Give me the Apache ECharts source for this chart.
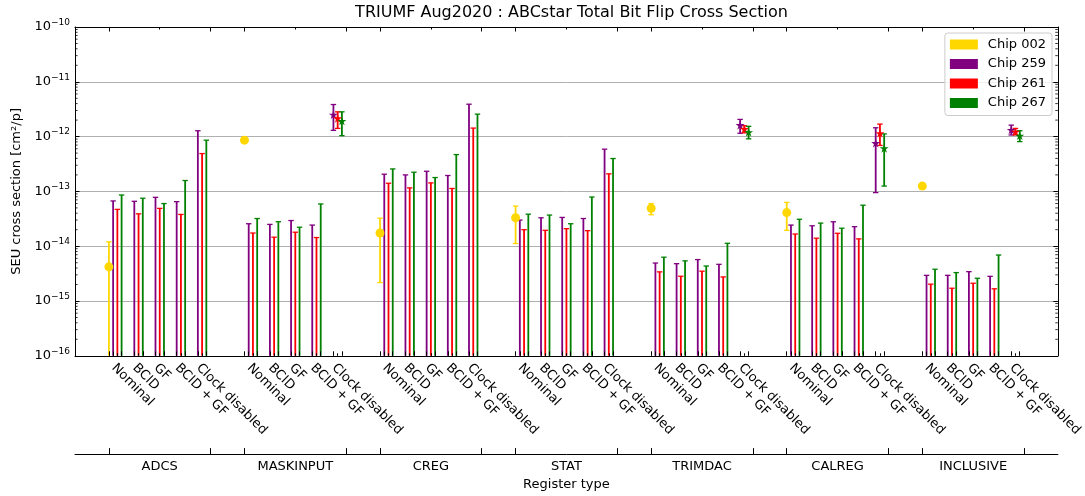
<!DOCTYPE html>
<html><head><meta charset="utf-8">
<script src="https://cdn.jsdelivr.net/npm/echarts@6/dist/echarts.min.js"></script>
<style>html,body{margin:0;padding:0;background:#fff}#c{width:1085px;height:496px}</style>
</head><body><div id="c"></div>
<script>
// ---------------- data ----------------
const groups = ['ADCS', 'MASKINPUT', 'CREG', 'STAT', 'TRIMDAC', 'CALREG', 'INCLUSIVE'];
const modes = ['Nominal', 'BCID', 'GF', 'BCID + GF', 'Clock disabled'];
const chips = ['Chip 002', 'Chip 259', 'Chip 261', 'Chip 267'];
const chipColors = ['#FFD700', '#800080', '#FF0000', '#008000'];
const yTickValues = [1e-16, 1e-15, 1e-14, 1e-13, 1e-12, 1e-11, 1e-10];
const minorMultipliers = [2, 3, 4, 5, 6, 7, 8, 9];

// Chip 002: measured, Nominal only (value, lower, upper); lower 0 = down to axis
const chip002Value = [4.2e-15, 8.6e-13, 1.74e-14, 3.3e-14, 4.93e-14, 4.1e-14, 1.25e-13];
const chip002Low   = [0,       8.3e-13, 2.17e-15, 1.12e-14, 3.75e-14, 1.95e-14, 1.21e-13];
const chip002High  = [1.2e-14, 8.9e-13, 3.25e-14, 5.4e-14, 6.0e-14, 6.3e-14, 1.29e-13];

// Upper limits per group (rows) and mode (columns); null = measured point instead
const chip259Limit = [
  [6.7e-14, 6.6e-14, 7.8e-14, 6.5e-14, 1.28e-12],
  [2.57e-14, 2.5e-14, 2.94e-14, 2.43e-14, null],
  [2.06e-13, 2.0e-13, 2.33e-13, 1.95e-13, 3.9e-12],
  [3.0e-14, 3.3e-14, 3.35e-14, 3.2e-14, 5.9e-13],
  [4.93e-15, 4.8e-15, 5.7e-15, 4.67e-15, null],
  [2.43e-14, 2.36e-14, 2.79e-14, 2.27e-14, null],
  [2.94e-15, 2.94e-15, 3.43e-15, 2.82e-15, null]
];
const chip261Limit = [
  [4.7e-14, 3.9e-14, 4.9e-14, 3.8e-14, 4.9e-13],
  [1.74e-14, 1.46e-14, 1.8e-14, 1.44e-14, null],
  [1.41e-13, 1.16e-13, 1.43e-13, 1.13e-13, 1.43e-12],
  [2.0e-14, 1.95e-14, 2.09e-14, 1.92e-14, 2.09e-13],
  [3.4e-15, 2.83e-15, 3.5e-15, 2.75e-15, null],
  [1.67e-14, 1.4e-14, 1.72e-14, 1.36e-14, null],
  [2.03e-15, 1.71e-15, 2.11e-15, 1.67e-15, null]
];
const chip267Limit = [
  [8.6e-14, 7.5e-14, 6.0e-14, 1.58e-13, 8.6e-13],
  [3.2e-14, 2.8e-14, 2.22e-14, 5.9e-14, null],
  [2.57e-13, 2.24e-13, 1.79e-13, 4.7e-13, 2.57e-12],
  [3.84e-14, 3.7e-14, 2.57e-14, 7.9e-14, 3.98e-13],
  [6.3e-15, 5.4e-15, 4.35e-15, 1.13e-14, null],
  [3.1e-14, 2.64e-14, 2.13e-14, 5.6e-14, null],
  [3.8e-15, 3.3e-15, 2.6e-15, 6.9e-15, null]
];
// Clock disabled measured points per group: [value, lower, upper]
const chip259Clock = [null, [2.5e-12, 1.30e-12, 3.85e-12], null, null, [1.62e-12, 1.15e-12, 2.06e-12], [7.6e-13, 9.5e-14, 1.45e-12], [1.32e-12, 1.07e-12, 1.62e-12]];
const chip261Clock = [null, [2.15e-12, 1.41e-12, 2.83e-12], null, null, [1.38e-12, 1.17e-12, 1.58e-12], [1.15e-12, 6.9e-13, 1.69e-12], [1.23e-12, 1.07e-12, 1.41e-12]];
const chip267Clock = [null, [1.92e-12, 1.04e-12, 2.83e-12], null, null, [1.2e-12, 9.1e-13, 1.54e-12], [6.1e-13, 1.25e-13, 1.12e-12], [1.04e-12, 8.1e-13, 1.28e-12]];

// ---------------- layout helpers ----------------
const FONT = 'DejaVu Sans';
const groupStep = 6.4, groupSpan = 4.8;
const chipOffsets = [0, 0.2, 0.4, 0.6];
const xMin = -1.6, xMax = 44.8;
const pos = (g, m, c) => g * groupStep + m + chipOffsets[c];

const limits = [null, chip259Limit, chip261Limit, chip267Limit];
const clocks = [null, chip259Clock, chip261Clock, chip267Clock];

const errData = [[], [], [], []];
const markData = [[], [], [], []];
groups.forEach((gName, g) => {
  errData[0].push([pos(g, 0, 0), chip002Low[g], chip002High[g]]);
  markData[0].push([pos(g, 0, 0), chip002Value[g]]);
  for (let c = 1; c < 4; c++) {
    modes.forEach((mName, m) => {
      const lim = limits[c][g][m];
      if (lim != null) errData[c].push([pos(g, m, c), 0, lim]);
    });
    const ck = clocks[c][g];
    if (ck) {
      errData[c].push([pos(g, 4, c), ck[1], ck[2]]);
      markData[c].push([pos(g, 4, c), ck[0]]);
    }
  }
});

const tallTicks = [], shortTicks = [], subLabelPos = [], groupEdges = [], groupCenters = [];
groups.forEach((gName, g) => {
  tallTicks.push(pos(g, 0, 0));
  groupEdges.push(g * groupStep, g * groupStep + groupSpan);
  groupCenters.push(g * groupStep + groupSpan / 2);
  modes.forEach((mName, m) => {
    tallTicks.push(pos(g, m, 1), pos(g, m, 3));
    shortTicks.push(pos(g, m, 2));
    subLabelPos.push(g * groupStep + m + 0.22);
  });
});

const minorValues = [];
yTickValues.slice(0, -1).forEach(d => minorMultipliers.forEach(k => minorValues.push([xMin, d * k])));

const starPath = 'path://M0,-1L0.2245,-0.309L0.951,-0.309L0.363,0.118L0.588,0.809L0,0.382L-0.588,0.809L-0.363,0.118L-0.951,-0.309L-0.2245,-0.309Z';

function renderErr(params, api) {
  const x = api.value(0), lo = api.value(1), hi = api.value(2);
  const cs = params.coordSys;
  const bottom = cs.y + cs.height;
  const top = api.coord([x, hi]);
  let yLo = bottom, capLo = false;
  if (lo > 0) {
    const p = api.coord([x, lo]);
    if (p[1] < bottom) { yLo = p[1]; capLo = true; }
  }
  const px = top[0];
  const color = api.visual('color');
  const ch = [
    { type: 'line', shape: { x1: px, y1: yLo, x2: px, y2: top[1] }, style: { stroke: color, lineWidth: 1.8 } },
    { type: 'line', shape: { x1: px - 2.7, y1: top[1], x2: px + 2.7, y2: top[1] }, style: { stroke: color, lineWidth: 1.3 } }
  ];
  if (capLo) ch.push({ type: 'line', shape: { x1: px - 2.7, y1: yLo, x2: px + 2.7, y2: yLo }, style: { stroke: color, lineWidth: 1.3 } });
  return { type: 'group', children: ch };
}

function renderMinor(params, api) {
  const cs = params.coordSys;
  const p = api.coord([xMin, api.value(1)]);
  const st = { stroke: '#000', lineWidth: 0.8 };
  return { type: 'group', children: [
    { type: 'line', shape: { x1: cs.x, y1: p[1], x2: cs.x + 2.6, y2: p[1] }, style: st },
    { type: 'line', shape: { x1: cs.x + cs.width - 2.6, y1: p[1], x2: cs.x + cs.width, y2: p[1] }, style: st }
  ] };
}

const black = { color: '#000', width: 1 };
const series = [];
chips.forEach((name, c) => {
  series.push({
    name, type: 'custom', xAxisIndex: 0, yAxisIndex: 0, data: errData[c],
    renderItem: renderErr, encode: { x: 0, y: 2 }, itemStyle: { color: chipColors[c] }, z: 3, silent: true
  });
  series.push({
    name, type: 'scatter', xAxisIndex: 0, yAxisIndex: 0, data: markData[c],
    symbol: c === 0 ? 'circle' : starPath, symbolKeepAspect: true,
    symbolSize: 9, itemStyle: { color: chipColors[c], opacity: 1 }, z: 4, silent: true
  });
});
series.push({ type: 'custom', xAxisIndex: 0, yAxisIndex: 0, data: minorValues, renderItem: renderMinor, encode: { x: 0, y: 1 }, silent: true, z: 5, clip: false });

const option = {
  animation: false,
  backgroundColor: '#fff',
  title: { text: 'TRIUMF Aug2020 : ABCstar Total Bit Flip Cross Section', left: 566.5, textAlign: 'center', top: 0,
    textStyle: { fontFamily: FONT, fontSize: 16, fontWeight: 'normal', color: '#000' } },
  legend: {
    data: chips.map(n => ({ name: n, icon: 'rect' })),
    orient: 'vertical', right: 33, top: 33, itemWidth: 28, itemHeight: 10, itemGap: 6.5,
    padding: [5, 6, 6, 5], backgroundColor: 'rgba(255,255,255,0.8)', borderColor: '#cccccc', borderWidth: 1, borderRadius: 3,
    textStyle: { fontFamily: FONT, fontSize: 13, color: '#000', padding: [0, 0, 0, 5] }, selectedMode: false
  },
  grid: { left: 75, right: 27, top: 27, bottom: 137, containLabel: false },
  xAxis: [
    { type: 'value', min: xMin, max: xMax, position: 'bottom', z: 6,
      axisLine: { onZero: false, lineStyle: black }, splitLine: { show: false },
      axisTick: { inside: true, length: 4.5, customValues: tallTicks, lineStyle: black },
      axisLabel: { customValues: subLabelPos, rotate: -45, margin: 10, fontFamily: FONT, fontSize: 13, color: '#000',
        formatter: v => { const g = Math.floor((v + 0.5) / groupStep); return modes[Math.round(v - g * groupStep - 0.22)]; } } },
    { type: 'value', min: xMin, max: xMax, position: 'top', z: 6,
      axisLine: { onZero: false, lineStyle: black }, splitLine: { show: false },
      axisTick: { inside: true, length: 4.5, customValues: groupEdges, lineStyle: black }, axisLabel: { show: false } },
    { type: 'value', min: xMin, max: xMax, position: 'bottom', offset: 98.3,
      axisLine: { onZero: false, lineStyle: black }, splitLine: { show: false },
      axisTick: { inside: true, length: 6, customValues: groupEdges, lineStyle: black },
      axisLabel: { customValues: groupCenters, margin: 6, fontFamily: FONT, fontSize: 13, color: '#000',
        formatter: v => groups[Math.round((v - groupSpan / 2) / groupStep)] },
      name: 'Register type', nameLocation: 'middle', nameGap: 20,
      nameTextStyle: { fontFamily: FONT, fontSize: 13, color: '#000' } },
    { type: 'value', min: xMin, max: xMax, position: 'bottom', offset: 0, z: 6,
      axisLine: { show: false, onZero: false }, splitLine: { show: false },
      axisTick: { inside: true, length: 2.5, customValues: shortTicks, lineStyle: black }, axisLabel: { show: false } },
    { type: 'value', min: xMin, max: xMax, position: 'top', offset: 0, z: 6,
      axisLine: { show: false, onZero: false }, splitLine: { show: false },
      axisTick: { inside: true, length: 2.5, customValues: groupCenters, lineStyle: black }, axisLabel: { show: false } }
  ],
  yAxis: [
    { type: 'log', logBase: 10, min: 1e-16, max: 1e-10, position: 'left', z: 6,
      axisLine: { show: true, onZero: false, lineStyle: black },
      axisTick: { show: true, inside: true, length: 4.5, customValues: yTickValues, lineStyle: black },
      splitLine: { show: false },
      axisLabel: { customValues: yTickValues, margin: 5,
        formatter: v => { const e = Math.round(Math.log10(v)); return '{b|10}{s|' + (e < 0 ? '\u2212' : '') + Math.abs(e) + '}'; },
        rich: { b: { fontFamily: FONT, fontSize: 13, lineHeight: 18, color: '#000' },
                s: { fontFamily: FONT, fontSize: 9, lineHeight: 10, verticalAlign: 'top', color: '#000' } } },
      name: 'SEU cross section [cm\u00b2/p]', nameLocation: 'middle', nameGap: 50,
      nameTextStyle: { fontFamily: FONT, fontSize: 13, color: '#000' } },
    { type: 'log', logBase: 10, min: 1e-16, max: 1e-10, position: 'right', z: 6,
      axisLine: { show: true, onZero: false, lineStyle: black },
      axisTick: { show: true, inside: true, length: 4.5, customValues: yTickValues, lineStyle: black },
      splitLine: { show: false }, axisLabel: { show: false } },
    { type: 'log', logBase: 10, min: 1e-16, max: 1e-10, position: 'left', z: 0,
      axisLine: { show: false, onZero: false }, axisTick: { show: false }, axisLabel: { show: false },
      splitLine: { show: true, lineStyle: { color: '#b0b0b0', width: 1 } } }
  ],
  series
};
const chart = echarts.init(document.getElementById('c'), null, { renderer: 'canvas' });
chart.setOption(option);
</script></body></html>
